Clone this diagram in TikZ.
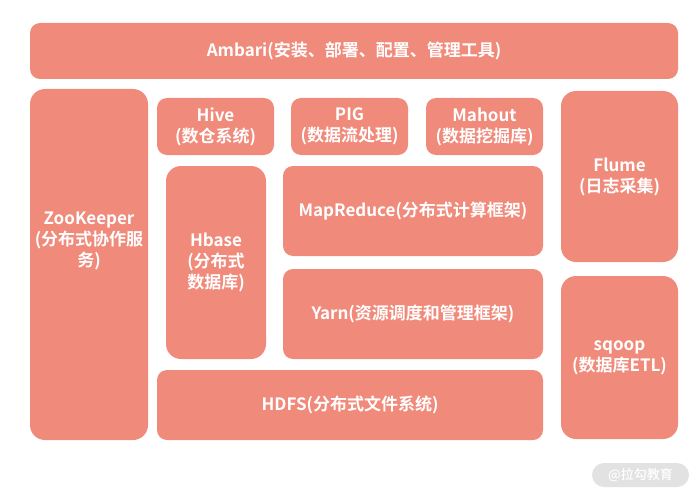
\documentclass[tikz,border=0pt]{standalone}
\usepackage{fontspec}
\setmainfont{Noto Sans CJK SC Bold}
\newfontfamily\wmfont{Noto Sans CJK SC Medium}
\definecolor{salmon}{HTML}{F08A7B}
\definecolor{wmgrey}{HTML}{E2E2E2}
\begin{document}
\begin{tikzpicture}[x=1pt,y=-1pt,
  blk/.style={fill=salmon, draw=none, rounded corners=10pt, text=white, align=center,
    inner sep=0pt, font=\fontsize{17}{21}\selectfont},
  bigblk/.style={blk, rounded corners=15pt}]
\useasboundingbox (0,0) rectangle (700,500);
% boxes: center (x,y), width, height
\node[blk, minimum width=648pt, minimum height=56pt] (ambari) at (354,51) {Ambari(安装、部署、配置、管理工具)};
\node[bigblk, minimum width=118pt, minimum height=351pt] (zk) at (89,264.5) {};
\node[text=white, align=center, font=\fontsize{17}{21}\selectfont, inner sep=0pt] (zktext) at (89,241) {ZooKeeper\\(分布式协作服\\务)};
\node[blk, minimum width=117pt, minimum height=57pt] (hive) at (215.5,126.5) {Hive\\(数仓系统)};
\node[blk, minimum width=117pt, minimum height=57pt] (pig) at (349.5,126.5) {PIG\\(数据流处理)};
\node[blk, minimum width=117pt, minimum height=57pt] (mahout) at (484.5,126.5) {Mahout\\(数据挖掘库)};
\node[bigblk, minimum width=117pt, minimum height=171pt] (flume) at (619.5,176.5) {Flume\\(日志采集)};
\node[bigblk, minimum width=100pt, minimum height=193pt] (hbase) at (216,262.5) {Hbase\\(分布式\\数据库)};
\node[blk, minimum width=260pt, minimum height=90pt] (mr) at (413,211) {MapReduce(分布式计算框架)};
\node[blk, minimum width=260pt, minimum height=90pt] (yarn) at (413,314) {Yarn(资源调度和管理框架)};
\node[blk, minimum width=386pt, minimum height=70pt] (hdfs) at (350,405) {HDFS(分布式文件系统)};
\node[bigblk, minimum width=117pt, minimum height=163pt] (sqoop) at (619.5,357.5) {sqoop\\(数据库ETL)};
% watermark
\node[fill=wmgrey, rounded corners=12pt, minimum width=97pt, minimum height=24pt, inner sep=0pt,
  text=white, font=\wmfont\fontsize{13}{15}\selectfont] (wm) at (640.5,475) {@拉勾教育};
\end{tikzpicture}
\end{document}
